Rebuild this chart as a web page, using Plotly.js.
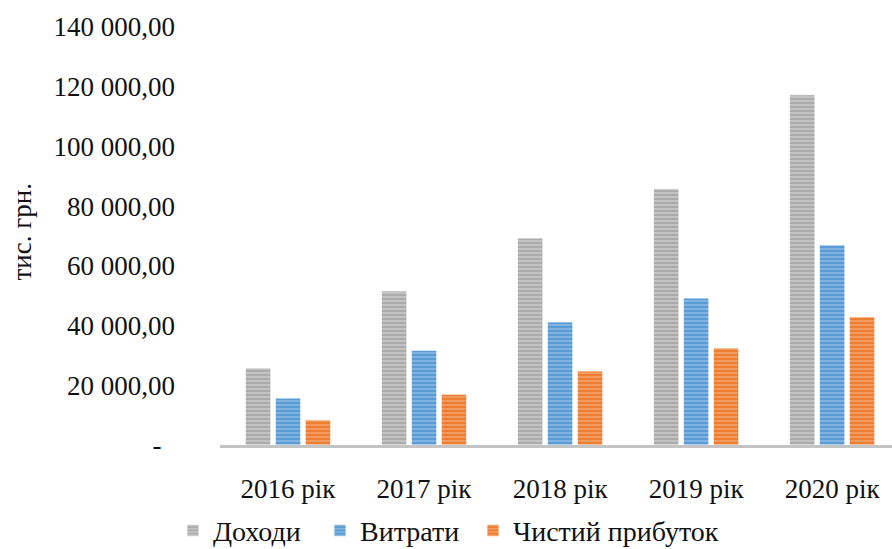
<!DOCTYPE html>
<html>
<head>
<meta charset="utf-8">
<script src="https://cdn.plot.ly/plotly-3.0.1.min.js"></script>
<style>
  html, body { margin: 0; padding: 0; background: #ffffff; }
  #chart { width: 892px; height: 549px; }
</style>
</head>
<body>
<div id="chart"></div>
<script>
// Financial results by year, thousand UAH
const years = ['2016 рік', '2017 рік', '2018 рік', '2019 рік', '2020 рік'];
const revenue = [25800, 51600, 69300, 85800, 117300];   // Доходи
const expenses = [15700, 31700, 41200, 49200, 67000];   // Витрати
const netProfit = [8400, 17000, 24800, 32500, 42900];   // Чистий прибуток

const seriesNames = ['Доходи', 'Витрати', 'Чистий прибуток'];
const yTickVals = [0, 20000, 40000, 60000, 80000, 100000, 120000, 140000];
const yTickText = ['-\u00a0\u00a0', '20 000,00', '40 000,00', '60 000,00',
                   '80 000,00', '100 000,00', '120 000,00', '140 000,00'];

const FONT = 'Liberation Serif, Times New Roman, serif';
const FS = 27;
const LEGEND_FS = 28;

function stripedBar(name, values, dark, light, legendId) {
  return {
    type: 'bar',
    name: name,
    x: years,
    y: values,
    legend: legendId,
    marker: {
      color: dark,
      line: { color: 'rgba(255,255,255,0.8)', width: 1 },
      pattern: {
        shape: '-',
        fillmode: 'overlay',
        fgcolor: light,
        size: 4,
        solidity: 0.45
      }
    },
    hoverinfo: 'x+y+name'
  };
}

const data = [
  stripedBar(seriesNames[0], revenue, '#ababab', '#dedede', 'legend'),
  stripedBar(seriesNames[1], expenses, '#5b9bd5', '#b0d1ef', 'legend2'),
  stripedBar(seriesNames[2], netProfit, '#ed7d31', '#f8bb94', 'legend3')
];

// one single-entry legend per series, laid out in a row under the axis
function legendBox(xPos) {
  return {
    orientation: 'h',
    x: xPos,
    xanchor: 'left',
    y: -0.205,
    yanchor: 'middle',
    bgcolor: 'rgba(0,0,0,0)',
    font: { family: FONT, size: LEGEND_FS, color: '#111111' },
    itemwidth: 30
  };
}

const layout = {
  width: 892,
  height: 549,
  margin: { l: 220, r: 0, t: 27, b: 104, pad: 0, autoexpand: false },
  paper_bgcolor: '#ffffff',
  plot_bgcolor: '#ffffff',
  font: { family: FONT, color: '#111111', size: FS },
  barmode: 'group',
  bargap: 0.34,
  bargroupgap: 0.15,
  showlegend: true,
  legend: legendBox(-0.070),
  legend2: legendBox(0.1488),
  legend3: legendBox(0.3765),
  xaxis: {
    type: 'category',
    range: [-0.5, 4.44],
    showgrid: false,
    zeroline: false,
    showline: true,
    linecolor: '#c4c4c4',
    linewidth: 2.5,
    ticks: '',
    tickfont: { family: FONT, size: FS, color: '#111111' },
    ticklabelstandoff: 18,
    fixedrange: true
  },
  yaxis: {
    range: [0, 140000],
    showgrid: false,
    zeroline: false,
    showline: false,
    ticks: '',
    tickmode: 'array',
    tickvals: yTickVals,
    ticktext: yTickText,
    tickfont: { family: FONT, size: FS, color: '#111111' },
    ticklabelstandoff: 44,
    fixedrange: true
  },
  annotations: [{
    text: 'тис. грн.',
    xref: 'paper',
    yref: 'paper',
    x: -0.295,
    y: 0.51,
    xanchor: 'center',
    yanchor: 'middle',
    textangle: -90,
    showarrow: false,
    font: { family: FONT, size: FS, color: '#111111' }
  }]
};

Plotly.newPlot('chart', data, layout, { displayModeBar: false, staticPlot: true });
</script>
</body>
</html>
